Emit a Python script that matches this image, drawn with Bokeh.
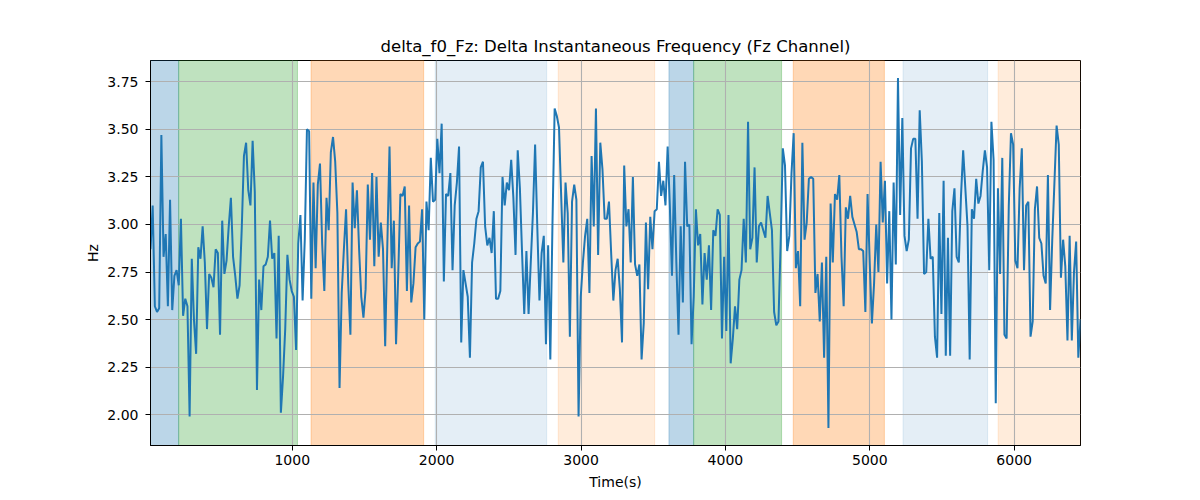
from bokeh.embed import file_html
from bokeh.models import BoxAnnotation, FixedTicker, NumeralTickFormatter, Range1d
from bokeh.plotting import figure
from bokeh.resources import INLINE

# delta instantaneous frequency, Fz channel (Hz), one sample every DT seconds
T0 = 18
DT = 15.05
DELTA_F0 = [
    2.87, 3.10, 2.57, 2.54, 2.56, 3.47, 2.83, 2.95, 2.57, 3.13, 2.55, 2.73, 2.76, 2.68, 3.03,
    2.52, 2.61, 2.57, 1.99, 2.82, 2.50, 2.32, 2.88, 2.82, 2.99, 2.80, 2.45, 2.74, 2.72, 2.67,
    2.87, 2.85, 2.42, 3.02, 2.74, 2.81, 2.99, 3.14, 2.83, 2.73, 2.61, 2.68, 2.98, 3.36, 3.43,
    3.18, 3.10, 3.44, 3.17, 2.13, 2.71, 2.55, 2.78, 2.79, 2.83, 3.02, 2.82, 2.85, 2.40, 2.94,
    2.01, 2.20, 2.45, 2.84, 2.71, 2.65, 2.62, 2.34, 2.90, 3.05, 2.60,
    2.92, 3.50, 3.49, 2.61, 3.22, 2.77, 3.21, 3.32, 2.90, 2.65, 3.14, 2.97, 3.38, 3.46, 3.33,
    3.06, 2.14, 2.64, 2.87, 3.08, 2.69, 2.42, 3.22, 2.98, 3.18, 2.87, 2.62, 2.51, 2.66, 3.21,
    2.92, 3.27, 2.78, 3.25, 2.83, 3.01, 2.87, 2.36, 2.90, 3.41, 2.77, 3.02, 2.37, 2.73, 3.16,
    3.15, 3.20, 2.65, 3.10, 2.59, 2.69, 2.88, 2.90, 2.91, 3.08, 2.50, 3.12, 2.97, 3.35, 3.12,
    3.13, 3.45, 3.27, 3.53, 2.70, 3.16, 3.15, 3.27, 2.76,
    3.10, 3.22, 3.41, 2.38, 2.76, 2.69, 2.62, 2.30, 2.80, 2.90, 3.03, 3.07, 3.30, 3.33, 2.99,
    2.89, 2.93, 2.85, 3.07, 2.61, 2.61, 2.65, 3.25, 3.10, 3.22, 3.18, 3.34, 3.14, 2.84, 3.39,
    3.19, 2.85, 2.53, 2.86, 2.53, 2.80, 3.06, 3.42, 2.99, 2.60, 2.85, 2.94, 2.37, 2.89, 2.29,
    3.01, 3.61, 3.57, 3.51, 3.15, 2.80, 3.22, 3.06, 2.41, 3.12, 3.21, 3.13, 1.99, 2.62, 2.80,
    2.94, 3.03, 2.64, 3.36, 2.99,
    3.61, 2.84, 3.43, 3.29, 3.03, 3.03, 3.12, 2.85, 2.60, 2.76, 2.82, 2.66, 2.38, 3.31, 2.99,
    3.08, 2.80, 3.25, 2.79, 2.73, 2.79, 2.29, 2.48, 3.01, 2.66, 3.04, 2.87, 3.07, 3.08, 3.33,
    3.15, 3.23, 3.10, 3.41, 3.10, 2.73, 3.26, 2.80, 2.42, 2.99, 2.59, 3.33, 2.99, 3.00, 2.37,
    2.62, 3.08, 2.89, 2.95, 2.58, 2.85, 2.71, 2.89, 2.55, 2.97, 2.94, 3.08, 3.05, 2.40, 2.83,
    2.44, 3.05, 2.27, 2.40, 2.57, 2.45, 2.71, 2.76, 3.03, 2.80,
    3.54, 2.87, 2.93, 3.30, 2.80, 2.99, 3.01, 2.97, 2.93, 3.15, 3.06, 2.97, 2.54, 2.47, 2.49,
    2.90, 3.40, 3.31, 2.86, 2.94, 3.27, 3.48, 2.77, 2.86, 2.57, 3.43, 2.92, 3.01, 3.24, 3.25,
    3.24, 2.64, 2.74, 2.49, 2.80, 2.30, 2.83, 1.93, 3.11, 2.80, 3.16, 3.13, 3.26, 2.83, 2.57,
    3.09, 3.03, 3.15, 3.04, 3.00, 2.96, 2.87, 2.87, 2.86, 2.54, 3.16, 2.80, 2.48, 2.69, 3.00,
    2.75, 3.33, 3.01, 3.23, 2.69, 3.07, 2.50, 3.22, 2.79,
    3.77, 3.05, 3.56, 2.94, 2.86, 2.92, 3.40, 3.45, 3.45, 3.03, 3.60, 3.33, 2.74, 2.75, 3.03,
    2.82, 2.83, 2.41, 2.30, 3.06, 2.53, 3.23, 2.31, 2.93, 2.31, 3.07, 3.19, 2.83, 2.80, 3.15,
    3.39, 3.19, 2.99, 2.29, 3.08, 3.03, 3.24, 3.11, 3.15, 3.28, 3.39, 3.30, 2.76, 3.54, 3.34,
    2.06, 3.19, 2.74, 3.35, 2.42, 2.40, 3.10, 3.48, 3.42, 2.81, 2.77, 3.19, 3.40, 2.76, 3.10,
    3.12, 2.41, 2.49, 3.08, 3.20, 2.93, 2.90, 2.73, 2.69, 3.26, 2.55, 2.92, 3.22,
    3.52, 3.42, 2.72, 2.92, 2.78, 2.39, 2.94, 2.39, 2.75, 2.91, 2.30, 2.50,
]

# shaded segments
SPAN_START = [18, 213, 1130, 1990, 2842, 3609, 3780, 4470, 5230, 5889]
SPAN_END = [213, 1036, 1910, 2762, 3510, 3780, 4389, 5101, 5816, 6470]
SPAN_COLOR = ["#1f77b4", "#2ca02c", "#ff7f0e", "#1f77b4", "#ff7f0e",
              "#1f77b4", "#2ca02c", "#ff7f0e", "#1f77b4", "#ff7f0e"]
SPAN_ALPHA = [0.3, 0.3, 0.3, 0.12, 0.15, 0.3, 0.3, 0.3, 0.12, 0.15]

X_TICKS = [1000, 2000, 3000, 4000, 5000, 6000]
Y_TICKS = [2.00, 2.25, 2.50, 2.75, 3.00, 3.25, 3.50, 3.75]

times = [T0 + DT * i for i in range(len(DELTA_F0))]
lo, hi = min(DELTA_F0), max(DELTA_F0)
pad = 0.05 * (hi - lo)

p = figure(width=1200, height=500, output_backend="svg", toolbar_location=None, tools="",
           title="delta_f0_Fz: Delta Instantaneous Frequency (Fz Channel)",
           x_range=Range1d(times[0], times[-1]), y_range=Range1d(lo - pad, hi + pad))
p.min_border_left = 150
p.min_border_right = 120
p.min_border_top = 60
p.min_border_bottom = 55

p.title.align = "center"
p.title.text_font = "DejaVu Sans"
p.title.text_font_size = "16.5px"
p.title.text_font_style = "normal"
p.title.text_color = "black"

for start, end, color, alpha in zip(SPAN_START, SPAN_END, SPAN_COLOR, SPAN_ALPHA):
    p.add_layout(BoxAnnotation(left=start, right=end, fill_color=color, fill_alpha=alpha,
                               line_color=color, line_alpha=alpha, line_width=1, level="image"))

p.line(times, DELTA_F0, line_color="#1f77b4", line_width=2)

p.xaxis.ticker = FixedTicker(ticks=X_TICKS)
p.yaxis.ticker = FixedTicker(ticks=Y_TICKS)
p.yaxis.formatter = NumeralTickFormatter(format="0.00")
p.xaxis.axis_label = "Time(s)"
p.yaxis.axis_label = "Hz"
for ax in (p.xaxis, p.yaxis):
    ax.axis_label_text_font = "DejaVu Sans"
    ax.axis_label_text_font_size = "14px"
    ax.axis_label_text_font_style = "normal"
    ax.axis_label_text_color = "black"
    ax.major_label_text_font = "DejaVu Sans"
    ax.major_label_text_font_size = "14px"
    ax.major_label_text_color = "black"
    ax.axis_line_color = "black"
    ax.major_tick_line_color = "black"
    ax.major_tick_out = 5
    ax.major_tick_in = 0
    ax.minor_tick_line_color = None
p.xaxis.major_label_standoff = 4
p.xaxis.axis_label_standoff = 6
p.yaxis.major_label_standoff = 7
p.yaxis.axis_label_standoff = 3

p.grid.grid_line_color = "#b0b0b0"
p.grid.grid_line_width = 1.1
p.outline_line_color = "black"
p.outline_line_alpha = 1
p.outline_line_width = 1

open("out.html", "w").write(file_html(p, INLINE))
